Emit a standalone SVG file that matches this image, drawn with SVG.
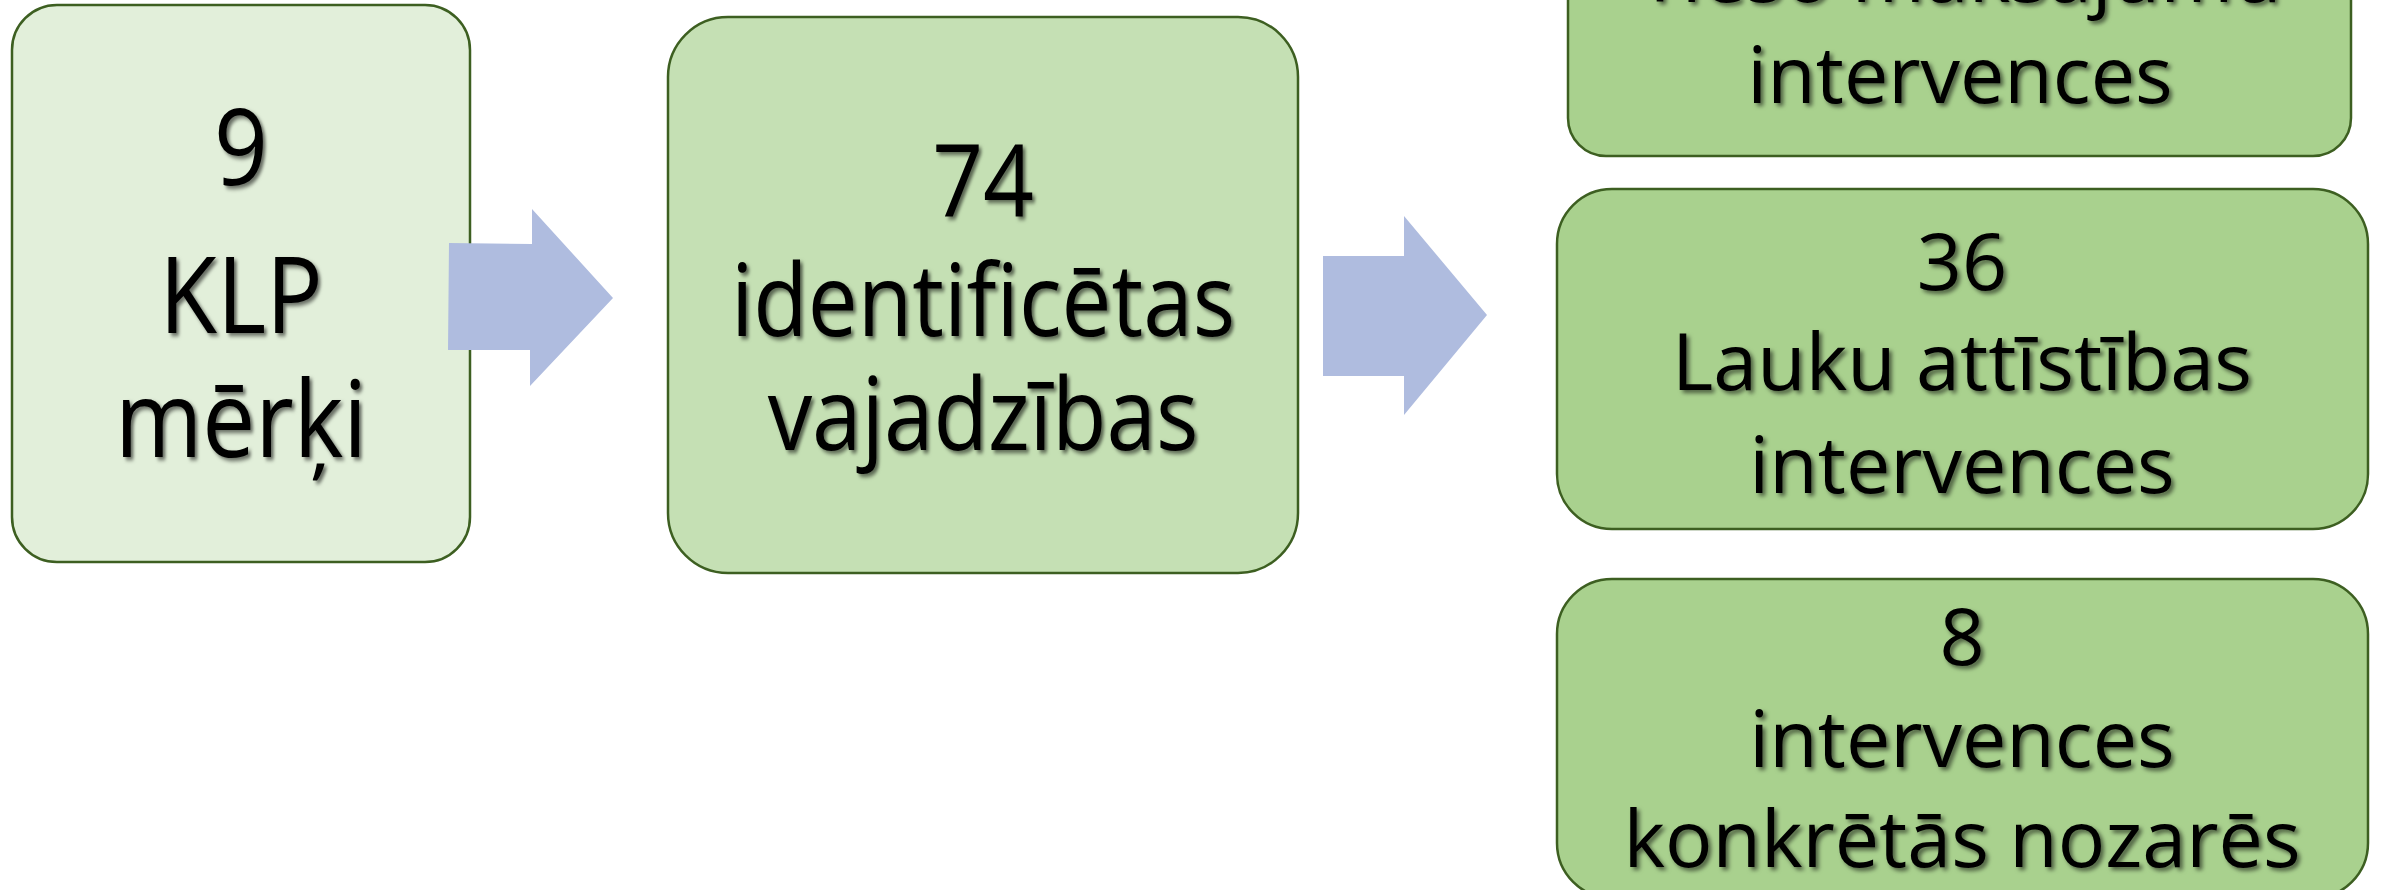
<svg xmlns="http://www.w3.org/2000/svg" width="2382" height="890" viewBox="0 0 2382 890">
  <defs>
    <filter id="ts" x="-10%" y="-10%" width="130%" height="140%">
      <feDropShadow dx="3" dy="3" stdDeviation="2" flood-color="#000" flood-opacity="0.55"/>
    </filter>
  </defs>
  <style>
    .box { stroke: #3D5F21; stroke-width: 2.5; }
    .b1 { fill: #E2EFDA; }
    .b2 { fill: #C5E0B4; }
    .b3 { fill: #A9D18E; }
    .arrow { fill: #AFBCDF; }
    text { font-family: "Open Sans", "Noto Sans", "DejaVu Sans", sans-serif; fill: #000; text-anchor: middle; filter: url(#ts); }
    .t1 { font-size: 106px; }
    .t2 { font-size: 100px; }
    .t3 { font-size: 79px; }
  </style>
  <rect width="2382" height="890" fill="#FFFFFF"/>
  <g id="node-klp">
    <rect class="box b1" x="12" y="5" width="458" height="557" rx="45" ry="45"/>
    <g transform="translate(241,0) scale(0.89,1)">
      <text class="t1" x="0" y="185">9</text>
      <text class="t1" x="0" y="333">KLP</text>
      <text class="t1" x="0" y="457">mērķi</text>
    </g>
  </g>
  <g id="node-vajadzibas">
    <rect class="box b2" x="668" y="17" width="630" height="556" rx="60" ry="60"/>
    <g transform="translate(983,0) scale(0.89,1)">
      <text class="t2" x="0" y="217">74</text>
      <text class="t2" x="0" y="336">identificētas</text>
      <text class="t2" x="0" y="450">vajadzības</text>
    </g>
  </g>
  <g id="node-tiesie">
    <rect class="box b3" x="1568" y="-190" width="783" height="346" rx="38" ry="38"/>
    <text class="t3" x="1960" y="2">Tiešo maksājumu</text>
    <text class="t3" x="1960" y="103">intervences</text>
  </g>
  <g id="node-lauku">
    <rect class="box b3" x="1557" y="189" width="811" height="340" rx="55" ry="55"/>
    <text class="t3" x="1962" y="290">36</text>
    <text class="t3" x="1962" y="390">Lauku attīstības</text>
    <text class="t3" x="1962" y="493">intervences</text>
  </g>
  <g id="node-nozares">
    <rect class="box b3" x="1557" y="579" width="811" height="319" rx="55" ry="55"/>
    <text class="t3" x="1962" y="665">8</text>
    <text class="t3" x="1962" y="767">intervences</text>
    <text class="t3" x="1962" y="867">konkrētās nozarēs</text>
  </g>
  <g id="connectors">
    <polygon class="arrow" points="449,243 532,244 532,209 613,298 530,386 530,350 448,350"/>
    <polygon class="arrow" points="1323,256 1404,256 1404,216 1487,315 1404,415 1404,376 1323,376"/>
  </g>
</svg>
